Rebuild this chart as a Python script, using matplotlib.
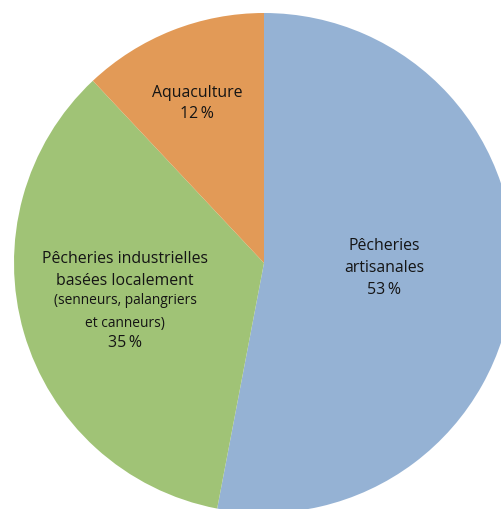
import matplotlib
matplotlib.use("Agg")
import matplotlib.pyplot as plt

plt.rcParams["font.family"] = ["Open Sans", "DejaVu Sans"]

# données
categories = ["Pêcheries artisanales", "Pêcheries industrielles basées localement", "Aquaculture"]
parts = [53, 35, 12]
colors = ["#95B2D4", "#A0C376", "#E29A57"]

fig = plt.figure(figsize=(5.02, 5.09), dpi=100)
ax = fig.add_axes([0, 0, 1, 1])

ax.pie(parts, colors=colors, startangle=90, counterclock=False, radius=1,
       wedgeprops={"linewidth": 0})

# limites choisies pour que le disque déborde un peu à droite et en bas
ax.set_xlim(-264 / 250, (502 - 264) / 250)
ax.set_ylim(-(509 - 263) / 250, 263 / 250)
ax.set_aspect("auto")
ax.axis("off")

txt = dict(ha="center", va="center", color="#141414")
big, small = 11.4, 9.9

# Aquaculture
ax.text(-0.268, 0.68, "Aquaculture", fontsize=big, **txt)
ax.text(-0.268, 0.596, f"{parts[2]}\u2009%", fontsize=big, **txt)

# Pêcheries industrielles
ax.text(-0.556, 0.016, "Pêcheries industrielles", fontsize=big, **txt)
ax.text(-0.556, -0.072, "basées localement", fontsize=big, **txt)
ax.text(-0.556, -0.152, "(senneurs, palangriers", fontsize=small, **txt)
ax.text(-0.556, -0.24, "et canneurs)", fontsize=small, **txt)
ax.text(-0.556, -0.32, f"{parts[1]}\u2009%", fontsize=big, **txt)

# Pêcheries artisanales
ax.text(0.48, 0.068, "Pêcheries", fontsize=big, **txt)
ax.text(0.48, -0.02, "artisanales", fontsize=big, **txt)
ax.text(0.48, -0.108, f"{parts[0]}\u2009%", fontsize=big, **txt)

plt.savefig("out.png", dpi=100)
plt.close()
